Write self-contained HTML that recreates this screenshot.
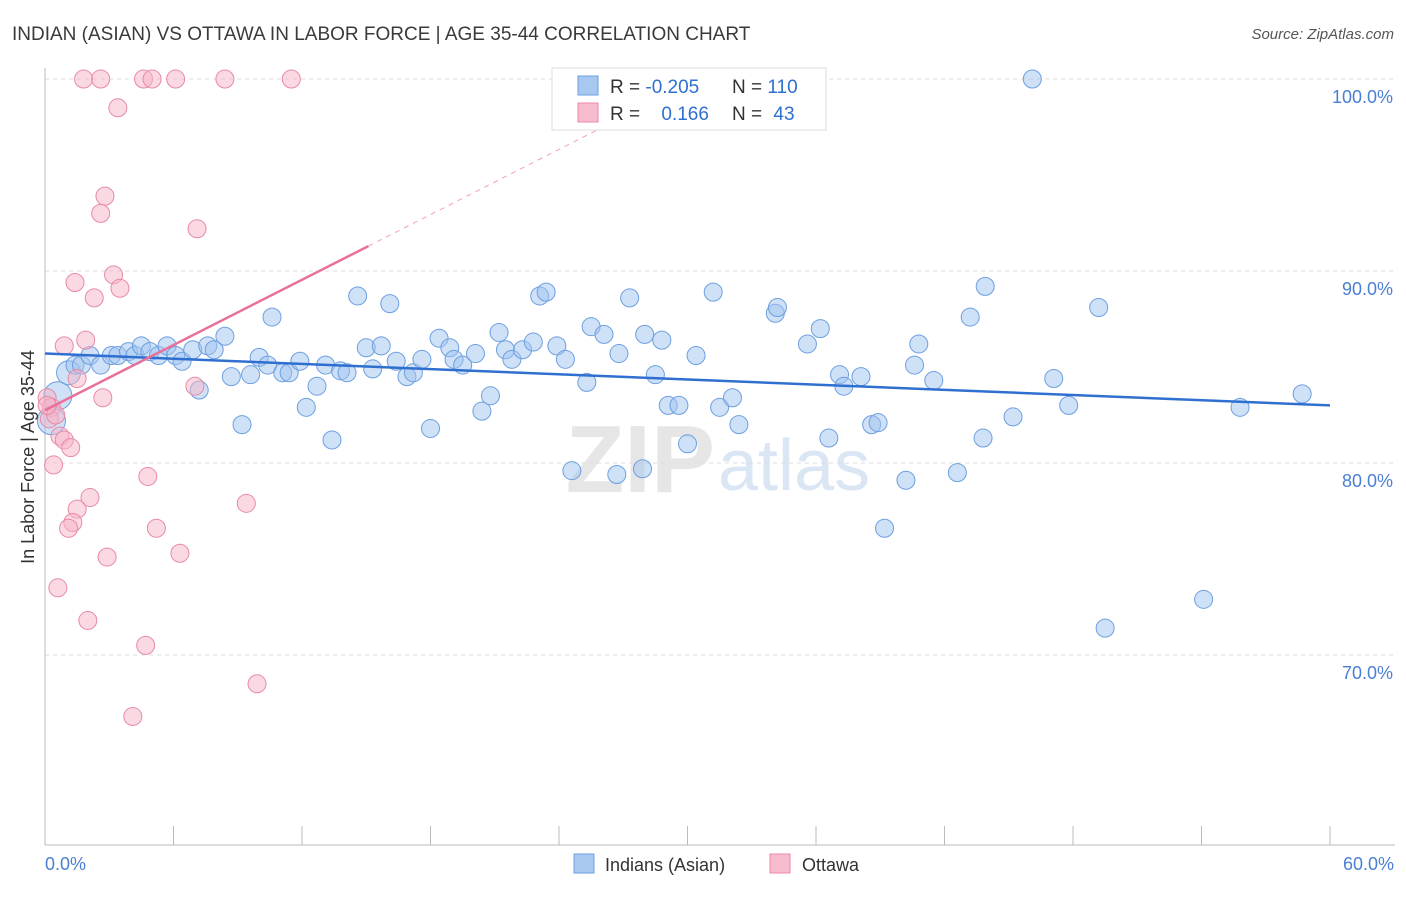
<!DOCTYPE html>
<html><head><meta charset="utf-8"><style>
body{margin:0;background:#fff;font-family:"Liberation Sans",sans-serif;}
svg text{font-family:"Liberation Sans",sans-serif;}
</style></head><body>
<svg id="chart" width="1406" height="892" viewBox="0 0 1406 892">
<text x="12" y="40" font-size="19" fill="#3a3a3a">INDIAN (ASIAN) VS OTTAWA IN LABOR FORCE | AGE 35-44 CORRELATION CHART</text>
<text x="1394" y="39" font-size="15" fill="#555" text-anchor="end" font-style="italic">Source: ZipAtlas.com</text>
<text x="715" y="492" font-size="96" fill="#e6e6e6" text-anchor="end" font-family="Liberation Serif" font-weight="bold">ZIP</text>
<text x="718" y="490" font-size="72" fill="#dbe6f5">atlas</text>
<g id="grid"></g>
<g id="axes"></g>
<g id="pts"></g>
<g id="trend"></g>
<text transform="translate(34,457) rotate(-90)" font-size="18" fill="#333" text-anchor="middle">In Labor Force | Age 35-44</text>
<text x="45" y="870" font-size="18" fill="#4a7fd4">0.0%</text>
<text x="1394" y="870" font-size="18" fill="#4a7fd4" text-anchor="end">60.0%</text>
<g>
<rect x="552" y="68" width="274" height="62" fill="#fff" stroke="#ddd"/>
<rect x="578" y="76" width="20" height="19" fill="#a9c8f0" stroke="#6d9fe0"/>
<rect x="578" y="103" width="20" height="19" fill="#f7bccd" stroke="#e88aa8"/>
<text x="610" y="93" font-size="19" fill="#333">R = <tspan fill="#2f6fd0">-0.205</tspan></text>
<text x="732" y="93" font-size="19" fill="#333">N = <tspan fill="#2f6fd0">110</tspan></text>
<text x="610" y="120" font-size="19" fill="#333">R = <tspan fill="#2f6fd0" dx="16">0.166</tspan></text>
<text x="732" y="120" font-size="19" fill="#333">N = <tspan fill="#2f6fd0" dx="6">43</tspan></text>
</g>
<g>
<rect x="574" y="854" width="20" height="19" fill="#a9c8f0" stroke="#6d9fe0"/>
<text x="605" y="871" font-size="18" fill="#333">Indians (Asian)</text>
<rect x="770" y="854" width="20" height="19" fill="#f7bccd" stroke="#e88aa8"/>
<text x="802" y="871" font-size="18" fill="#333">Ottawa</text>
</g>
</svg>
<script>
const yTicks=[100,90,80,70];
const yTickLabels=["100.0%","90.0%","80.0%","70.0%"];
const xTicks=[0,6,12,18,24,30,36,42,48,54,60];
const blueX=[46.1,0.6,0.3,1.1,1.4,1.7,2.1,2.6,3.1,3.4,3.9,4.2,4.5,4.9,5.3,5.7,6.1,6.4,6.9,7.2,7.6,7.9,8.4,8.7,9.2,9.6,10.0,10.4,10.6,11.1,11.4,11.9,12.2,12.7,13.1,13.4,13.8,14.1,14.6,15.0,15.3,15.7,16.1,16.4,16.9,17.2,17.6,18.0,18.4,18.9,19.1,19.5,20.1,20.4,20.8,21.2,21.5,21.8,22.3,22.8,23.1,23.4,23.9,24.3,24.6,25.3,25.5,26.1,26.7,26.8,27.3,27.9,28.0,28.5,28.8,29.1,29.6,30.0,30.4,31.2,31.5,32.1,32.4,34.1,34.2,35.6,36.2,36.6,37.1,37.3,38.1,38.6,38.9,40.2,39.2,40.6,40.8,41.5,42.6,43.2,43.8,43.9,45.2,47.1,47.8,49.2,49.5,54.1,55.8,58.7];
const blueY=[100,83.5,82.2,84.7,85.1,85.1,85.6,85.1,85.6,85.6,85.8,85.6,86.1,85.8,85.6,86.1,85.6,85.3,85.9,83.8,86.1,85.9,86.6,84.5,82.0,84.6,85.5,85.1,87.6,84.7,84.7,85.3,82.9,84.0,85.1,81.2,84.8,84.7,88.7,86.0,84.9,86.1,88.3,85.3,84.5,84.7,85.4,81.8,86.5,86.0,85.4,85.1,85.7,82.7,83.5,86.8,85.9,85.4,85.9,86.3,88.7,88.9,86.1,85.4,79.6,84.2,87.1,86.7,79.4,85.7,88.6,79.7,86.7,84.6,86.4,83.0,83.0,81.0,85.6,88.9,82.9,83.4,82.0,87.8,88.1,86.2,87.0,81.3,84.6,84.0,84.5,82.0,82.1,79.1,76.6,85.1,86.2,84.3,79.5,87.6,81.3,89.2,82.4,84.4,83.0,88.1,71.4,72.9,82.9,83.6];
const pinkX=[1.8,2.6,4.6,5.0,6.1,8.4,11.5,3.4,2.8,2.6,7.1,3.2,1.4,3.5,2.3,1.9,0.9,1.5,7.0,2.7,0.1,0.3,0.2,0.7,0.9,1.2,0.4,4.8,2.1,9.4,1.5,1.3,1.1,5.2,6.3,2.9,0.6,2.0,4.7,9.9,4.1,0.5,0.1];
const pinkY=[100,100,100,100,100,100,100,98.5,93.9,93.0,92.2,89.8,89.4,89.1,88.6,86.4,86.1,84.4,84.0,83.4,83.4,82.9,82.3,81.4,81.2,80.8,79.9,79.3,78.2,77.9,77.6,76.9,76.6,76.6,75.3,75.1,73.5,71.8,70.5,68.5,66.8,82.5,83.0];
const blueTrend=[85.7,83.0];
const pinkTrend=[82.75,0.566];
const NS="http://www.w3.org/2000/svg";
function xs(v){return 45+v*(1285/60);}
function ys(v){return 79+(100-v)*19.2;}
function mk(t,a,p){const e=document.createElementNS(NS,t);for(const k in a)e.setAttribute(k,a[k]);p.appendChild(e);return e;}
const grid=document.getElementById('grid'),axes=document.getElementById('axes'),pts=document.getElementById('pts'),trend=document.getElementById('trend');
yTicks.forEach((t,i)=>{
 const l=mk('line',{x1:45,x2:1395,y1:ys(t),y2:ys(t),stroke:'#ddd','stroke-dasharray':'4,4'},grid);
 
 
 const tx=mk('text',{x:1393,y:ys(t)+24,'font-size':18,fill:'#4a7fd4','text-anchor':'end'},grid);
 tx.textContent=yTickLabels[i];
 
 
});
const ax=mk('line',{x1:45,x2:1395,y1:845,y2:845,stroke:'#bbb'},axes);


const ay=mk('line',{x1:45,x2:45,y1:68,y2:845,stroke:'#bbb'},axes);


xTicks.forEach(t=>{
 const l=mk('line',{x1:xs(t),x2:xs(t),y1:826,y2:845,stroke:'#bbb'},axes);
 
 
});
blueX.forEach((x,i)=>{
 const r=i===1||i===2?14:(i===3?12:9);
 const c=mk('circle',{cx:xs(x),cy:ys(blueY[i]),r:r,fill:'rgba(160,195,240,0.5)',stroke:'#6d9fe0','stroke-width':1},pts);
 
 
});
pinkX.forEach((x,i)=>{
 const c=mk('circle',{cx:xs(x),cy:ys(pinkY[i]),r:9,fill:'rgba(245,180,200,0.5)',stroke:'#e88aa8','stroke-width':1},pts);
 
 
});
const bl=mk('line',{x1:xs(0),y1:ys(blueTrend[0]),x2:xs(60),y2:ys(blueTrend[1]),stroke:'#2f6fd0','stroke-width':2.5},trend);


const pe=15.1,pd=27;
const pl=mk('line',{x1:xs(0),y1:ys(pinkTrend[0]),x2:xs(pe),y2:ys(pinkTrend[0]+pinkTrend[1]*pe),stroke:'#e8709a','stroke-width':2.5},trend);


const pdl=mk('line',{x1:xs(pe),y1:ys(pinkTrend[0]+pinkTrend[1]*pe),x2:xs(pd),y2:ys(pinkTrend[0]+pinkTrend[1]*pd),stroke:'#f0a0bb','stroke-width':1,'stroke-dasharray':'5,5'},trend);


</script>
</body></html>
